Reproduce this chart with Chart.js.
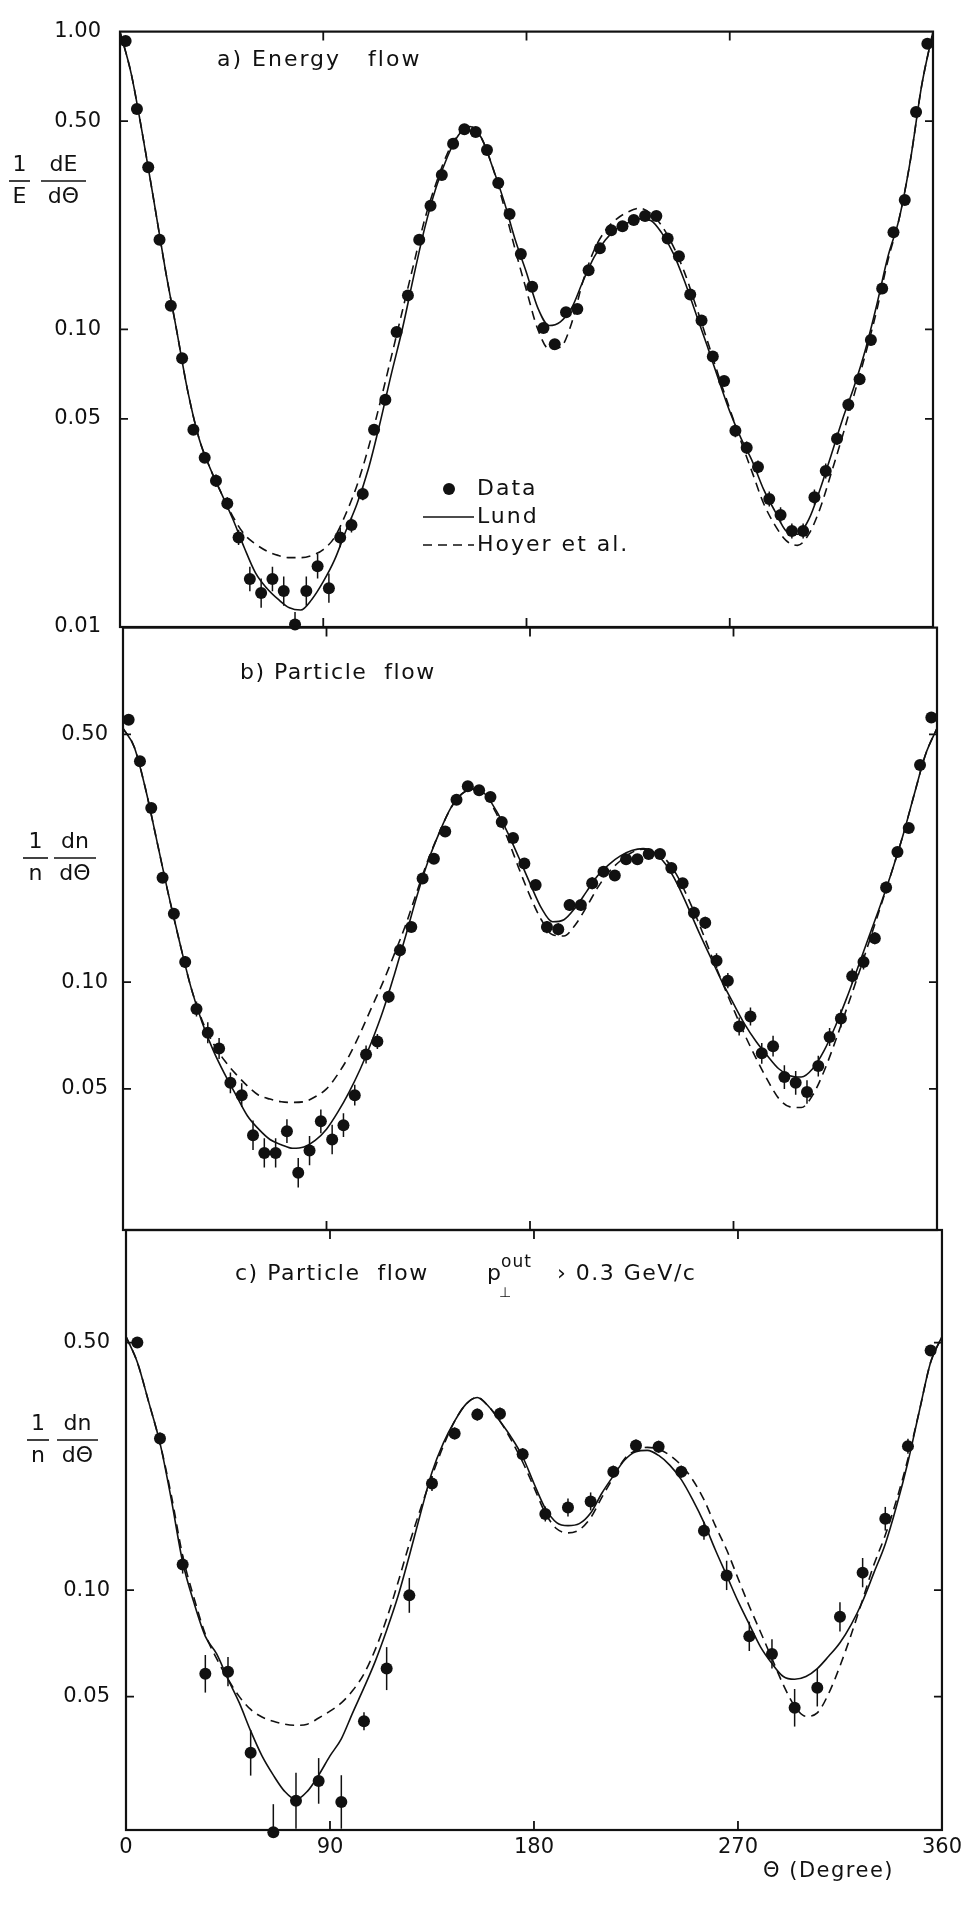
<!DOCTYPE html>
<html>
<head>
<meta charset="utf-8">
<script src="https://cdn.jsdelivr.net/npm/chart.js@4.4.0/dist/chart.umd.min.js"></script>
<style>
  html, body { margin: 0; padding: 0; background: #fff; }
  #page { position: relative; width: 967px; height: 1923px; overflow: hidden; }
  .panel { position: absolute; left: 0; width: 967px; }
  .panel canvas { display: block; }
</style>
</head>
<body>
<div id="page">
  <div class="panel" style="top:0;height:660px"><canvas id="chartA"></canvas></div>
  <div class="panel" style="top:600px;height:660px"><canvas id="chartB"></canvas></div>
  <div class="panel" style="top:1200px;height:723px"><canvas id="chartC"></canvas></div>
</div>
<script>
// ---- angles (degrees) ----
const thetaBins = [2.5, 7.5, 12.5, 17.5, 22.5, 27.5, 32.5, 37.5, 42.5, 47.5,
  52.5, 57.5, 62.5, 67.5, 72.5, 77.5, 82.5, 87.5, 92.5, 97.5,
  102.5, 107.5, 112.5, 117.5, 122.5, 127.5, 132.5, 137.5, 142.5, 147.5,
  152.5, 157.5, 162.5, 167.5, 172.5, 177.5, 182.5, 187.5, 192.5, 197.5,
  202.5, 207.5, 212.5, 217.5, 222.5, 227.5, 232.5, 237.5, 242.5, 247.5,
  252.5, 257.5, 262.5, 267.5, 272.5, 277.5, 282.5, 287.5, 292.5, 297.5,
  302.5, 307.5, 312.5, 317.5, 322.5, 327.5, 332.5, 337.5, 342.5, 347.5,
  352.5, 357.5];
const thetaCurve = [0, 5, 10, 15, 20, 25, 30, 35, 40, 45, 50, 55, 60, 65, 70, 75, 80, 85, 90, 95,
  100, 105, 110, 115, 120, 125, 130, 135, 140, 145, 150, 155, 160, 165, 170, 175, 180, 185, 190, 195,
  200, 205, 210, 215, 220, 225, 230, 235, 240, 245, 250, 255, 260, 265, 270, 275, 280, 285, 290, 295,
  300, 305, 310, 315, 320, 325, 330, 335, 340, 345, 350, 355, 360];
const thetaWide = [5, 15, 25, 35, 45, 55, 65, 75, 85, 95, 105, 115, 125, 135, 145, 155, 165, 175,
  185, 195, 205, 215, 225, 235, 245, 255, 265, 275, 285, 295, 305, 315, 325, 335, 345, 355];

// ---- tick labels ----
const ticksEnergy = [0.01, 0.05, 0.10, 0.50, 1.00];
const ticksParticle = [0.05, 0.10, 0.50];
const thetaTicks = [0, 90, 180, 270, 360];

// ---- a) energy flow ----
const energyData = [0.93, 0.55, 0.35, 0.20, 0.12, 0.080, 0.046, 0.037, 0.031, 0.026,
  0.020, 0.0145, 0.0130, 0.0145, 0.0132, 0.0102, 0.0132, 0.0160, 0.0135, 0.020,
  0.022, 0.028, 0.046, 0.058, 0.098, 0.13, 0.20, 0.26, 0.33, 0.42,
  0.47, 0.46, 0.40, 0.31, 0.244, 0.179, 0.139, 0.101, 0.089, 0.114,
  0.117, 0.158, 0.187, 0.215, 0.222, 0.233, 0.24, 0.24, 0.202, 0.176,
  0.131, 0.107, 0.081, 0.067, 0.0456, 0.040, 0.0345, 0.0269, 0.0238, 0.021,
  0.021, 0.0273, 0.0334, 0.0429, 0.0558, 0.068, 0.092, 0.137, 0.212, 0.272,
  0.537, 0.91];
const energyErr = [0.02, 0.02, 0.02, 0.03, 0.03, 0.03, 0.03, 0.04, 0.05, 0.05,
  0.06, 0.10, 0.12, 0.10, 0.12, 0.10, 0.12, 0.10, 0.12, 0.08,
  0.06, 0.05, 0.04, 0.04, 0.03, 0.03, 0.03, 0.02, 0.02, 0.02,
  0.02, 0.02, 0.02, 0.02, 0.02, 0.02, 0.03, 0.03, 0.03, 0.03,
  0.03, 0.03, 0.02, 0.02, 0.02, 0.02, 0.02, 0.02, 0.02, 0.03,
  0.03, 0.03, 0.04, 0.04, 0.05, 0.05, 0.05, 0.06, 0.06, 0.06,
  0.06, 0.06, 0.06, 0.05, 0.05, 0.04, 0.04, 0.04, 0.03, 0.03,
  0.02, 0.02];
const energyLund = [1.0, 0.72, 0.45, 0.27, 0.16, 0.10, 0.062, 0.043, 0.034, 0.028,
  0.023, 0.0185, 0.0152, 0.0135, 0.0124, 0.0116, 0.0114, 0.0124, 0.0142, 0.0168,
  0.021, 0.026, 0.034, 0.048, 0.070, 0.10, 0.15, 0.22, 0.30, 0.38,
  0.45, 0.48, 0.44, 0.35, 0.27, 0.20, 0.155, 0.118, 0.103, 0.106,
  0.118, 0.145, 0.175, 0.20, 0.218, 0.228, 0.235, 0.232, 0.21, 0.18,
  0.145, 0.113, 0.088, 0.068, 0.053, 0.043, 0.036, 0.029, 0.0245, 0.021,
  0.0205, 0.023, 0.029, 0.038, 0.050, 0.064, 0.085, 0.12, 0.175, 0.235,
  0.37, 0.66, 1.0];
const energyHoyer = [1.0, 0.72, 0.45, 0.27, 0.16, 0.10, 0.062, 0.043, 0.034, 0.028,
  0.0235, 0.0205, 0.019, 0.018, 0.0174, 0.0171, 0.0171, 0.0174, 0.0182, 0.020,
  0.024, 0.030, 0.040, 0.056, 0.080, 0.115, 0.165, 0.235, 0.31, 0.39,
  0.455, 0.48, 0.44, 0.35, 0.26, 0.185, 0.135, 0.100, 0.086, 0.087,
  0.105, 0.145, 0.185, 0.215, 0.235, 0.248, 0.255, 0.245, 0.222, 0.19,
  0.155, 0.12, 0.092, 0.070, 0.054, 0.042, 0.033, 0.026, 0.022, 0.0195,
  0.0188, 0.0205, 0.025, 0.033, 0.044, 0.060, 0.082, 0.115, 0.17, 0.235,
  0.37, 0.66, 1.0];

// ---- b) particle flow ----
const particleData = [0.55, 0.42, 0.31, 0.197, 0.156, 0.114, 0.084, 0.072, 0.065, 0.052,
  0.048, 0.037, 0.033, 0.033, 0.038, 0.029, 0.0335, 0.0405, 0.036, 0.0395,
  0.048, 0.0625, 0.068, 0.091, 0.123, 0.143, 0.196, 0.223, 0.266, 0.327,
  0.357, 0.348, 0.333, 0.283, 0.255, 0.216, 0.188, 0.143, 0.141, 0.165,
  0.165, 0.19, 0.205, 0.20, 0.222, 0.222, 0.23, 0.23, 0.21, 0.19,
  0.157, 0.147, 0.115, 0.101, 0.075, 0.080, 0.063, 0.066, 0.054, 0.052,
  0.049, 0.058, 0.070, 0.079, 0.104, 0.114, 0.133, 0.185, 0.233, 0.272,
  0.41, 0.558];
const particleErr = [0.02, 0.02, 0.03, 0.03, 0.03, 0.04, 0.05, 0.07, 0.07, 0.07,
  0.08, 0.10, 0.10, 0.10, 0.08, 0.10, 0.10, 0.08, 0.10, 0.08,
  0.07, 0.06, 0.05, 0.04, 0.04, 0.03, 0.03, 0.03, 0.02, 0.02,
  0.02, 0.02, 0.02, 0.02, 0.02, 0.03, 0.03, 0.04, 0.04, 0.04,
  0.04, 0.04, 0.03, 0.03, 0.03, 0.03, 0.03, 0.03, 0.03, 0.03,
  0.04, 0.04, 0.05, 0.05, 0.06, 0.06, 0.07, 0.07, 0.08, 0.08,
  0.08, 0.07, 0.06, 0.06, 0.05, 0.05, 0.04, 0.04, 0.03, 0.03,
  0.02, 0.02];
const particleLund = [0.52, 0.46, 0.35, 0.25, 0.178, 0.13, 0.097, 0.077, 0.064, 0.055,
  0.048, 0.042, 0.0385, 0.036, 0.0348, 0.034, 0.0343, 0.0358, 0.0385, 0.043,
  0.049, 0.057, 0.068, 0.083, 0.105, 0.135, 0.175, 0.22, 0.265, 0.31,
  0.34, 0.35, 0.34, 0.305, 0.265, 0.225, 0.19, 0.162, 0.148, 0.15,
  0.162, 0.18, 0.20, 0.215, 0.227, 0.235, 0.238, 0.232, 0.215, 0.19,
  0.162, 0.137, 0.117, 0.10, 0.087, 0.076, 0.068, 0.062, 0.057, 0.0545,
  0.054, 0.057, 0.064, 0.075, 0.090, 0.11, 0.135, 0.165, 0.205, 0.26,
  0.34, 0.44, 0.52];
const particleHoyer = [0.52, 0.46, 0.35, 0.25, 0.178, 0.13, 0.097, 0.078, 0.067, 0.060,
  0.055, 0.051, 0.048, 0.0468, 0.046, 0.0458, 0.046, 0.0475, 0.050, 0.055,
  0.062, 0.072, 0.085, 0.10, 0.12, 0.145, 0.18, 0.222, 0.265, 0.31,
  0.34, 0.352, 0.34, 0.30, 0.255, 0.21, 0.175, 0.15, 0.136, 0.135,
  0.145, 0.163, 0.185, 0.205, 0.22, 0.232, 0.237, 0.235, 0.222, 0.20,
  0.172, 0.145, 0.12, 0.10, 0.084, 0.071, 0.061, 0.053, 0.047, 0.0445,
  0.0443, 0.048, 0.056, 0.068, 0.084, 0.104, 0.13, 0.163, 0.205, 0.26,
  0.34, 0.44, 0.52];

// ---- c) particle flow, pT out > 0.3 GeV/c ----
const ptoutData = [0.50, 0.268, 0.118, 0.058, 0.0588, 0.0347, 0.0207, 0.0254, 0.0289, 0.0252,
  0.0426, 0.060, 0.0966, 0.20, 0.277, 0.313, 0.315, 0.242, 0.164, 0.171,
  0.178, 0.216, 0.256, 0.254, 0.216, 0.147, 0.11, 0.074, 0.066, 0.0465,
  0.053, 0.084, 0.112, 0.159, 0.255, 0.475];
const ptoutErr = [0.03, 0.04, 0.06, 0.13, 0.10, 0.16, 0.20, 0.20, 0.16, 0.19,
  0.06, 0.15, 0.12, 0.05, 0.04, 0.04, 0.04, 0.04, 0.05, 0.06,
  0.06, 0.04, 0.04, 0.04, 0.04, 0.06, 0.10, 0.10, 0.10, 0.13,
  0.13, 0.10, 0.10, 0.08, 0.05, 0.03];
const ptoutLund = [0.52, 0.44, 0.34, 0.26, 0.18, 0.12, 0.092, 0.074, 0.066, 0.056,
  0.048, 0.040, 0.034, 0.030, 0.027, 0.0256, 0.027, 0.030, 0.034, 0.038,
  0.045, 0.053, 0.063, 0.077, 0.096, 0.125, 0.165, 0.215, 0.26, 0.30,
  0.335, 0.35, 0.33, 0.30, 0.27, 0.238, 0.20, 0.17, 0.155, 0.152,
  0.154, 0.165, 0.188, 0.21, 0.233, 0.246, 0.248, 0.24, 0.225, 0.205,
  0.18, 0.155, 0.13, 0.11, 0.093, 0.080, 0.069, 0.062, 0.057, 0.056,
  0.057, 0.060, 0.065, 0.071, 0.080, 0.093, 0.112, 0.135, 0.173, 0.23,
  0.32, 0.44, 0.52];
const ptoutHoyer = [0.52, 0.44, 0.34, 0.26, 0.185, 0.125, 0.095, 0.075, 0.064, 0.056,
  0.050, 0.046, 0.0438, 0.0426, 0.0418, 0.0415, 0.0418, 0.0435, 0.0455, 0.048,
  0.052, 0.058, 0.068, 0.083, 0.105, 0.135, 0.17, 0.21, 0.255, 0.30,
  0.335, 0.35, 0.33, 0.30, 0.265, 0.23, 0.195, 0.165, 0.149, 0.145,
  0.148, 0.16, 0.183, 0.208, 0.235, 0.248, 0.253, 0.25, 0.24, 0.225,
  0.205, 0.18, 0.152, 0.13, 0.108, 0.090, 0.076, 0.064, 0.054, 0.047,
  0.044, 0.045, 0.051, 0.061, 0.075, 0.094, 0.118, 0.143, 0.18, 0.235,
  0.32, 0.44, 0.52];

const INK = '#111';
const FONT = '"DejaVu Sans", sans-serif';

function pts(xs, ys) {
    return xs.map((x, i) => ({ x: x, y: ys[i] }));
}

function drawText(ctx, str, x, y, size, spacing, align) {
    ctx.save();
    ctx.font = size + 'px ' + FONT;
    ctx.fillStyle = INK;
    ctx.textAlign = align || 'left';
    ctx.textBaseline = 'middle';
    if ('letterSpacing' in ctx) ctx.letterSpacing = (spacing || 0) + 'px';
    ctx.fillText(str, x, y);
    ctx.restore();
}

// little stacked fraction, like 1/E
function drawFrac(ctx, num, den, x1, x2, yBar, size) {
    const cx = (x1 + x2) / 2;
    drawText(ctx, num, cx, yBar - size * 0.72, size, 0, 'center');
    drawText(ctx, den, cx, yBar + size * 0.74, size, 0, 'center');
    ctx.save();
    ctx.strokeStyle = INK;
    ctx.lineWidth = 1.6;
    ctx.beginPath();
    ctx.moveTo(x1, yBar);
    ctx.lineTo(x2, yBar);
    ctx.stroke();
    ctx.restore();
}

// frame, inward ticks, error bars and the hand-placed text of each panel
const panelPlugin = {
    id: 'panel',
    beforeDatasetsDraw(chart) {
        const ctx = chart.ctx;
        const ys = chart.scales.y;
        const area = chart.chartArea;
        ctx.save();
        ctx.beginPath();
        ctx.rect(area.left, area.top, area.right - area.left, area.bottom - area.top);
        ctx.clip();
        ctx.strokeStyle = INK;
        ctx.lineWidth = 1.5;
        chart.data.datasets.forEach((ds, i) => {
            if (!ds.errs) return;
            const meta = chart.getDatasetMeta(i);
            meta.data.forEach((el, j) => {
                const v = ds.data[j].y;
                const e = ds.errs[j];
                ctx.beginPath();
                ctx.moveTo(el.x, ys.getPixelForValue(v * (1 + e)));
                ctx.lineTo(el.x, ys.getPixelForValue(v / (1 + e)));
                ctx.stroke();
            });
        });
        ctx.restore();
    },
    afterDraw(chart, args, opts) {
        const ctx = chart.ctx;
        const a = chart.chartArea;
        const xs = chart.scales.x;
        const ys = chart.scales.y;
        const off = opts.pageTop;

        ctx.save();
        ctx.strokeStyle = INK;
        ctx.lineWidth = 2.2;
        ctx.strokeRect(a.left, a.top, a.right - a.left, a.bottom - a.top);

        // inward tick marks
        ctx.lineWidth = 1.8;
        ctx.beginPath();
        opts.yInner.forEach(v => {
            const py = ys.getPixelForValue(v);
            ctx.moveTo(a.left, py); ctx.lineTo(a.left + 8, py);
            ctx.moveTo(a.right, py); ctx.lineTo(a.right - 8, py);
        });
        [90, 180, 270].forEach(v => {
            const px = xs.getPixelForValue(v);
            ctx.moveTo(px, a.top); ctx.lineTo(px, a.top + 9);
            ctx.moveTo(px, a.bottom); ctx.lineTo(px, a.bottom - 9);
        });
        ctx.stroke();
        ctx.restore();

        (opts.texts || []).forEach(t => drawText(ctx, t.s, t.x, t.y - off, t.size, t.sp, t.align));
        (opts.fracs || []).forEach(f => drawFrac(ctx, f.num, f.den, f.x1, f.x2, f.y - off, f.size));

        if (opts.legend) {
            const L = opts.legend;
            const dsData = chart.data.datasets[0];
            ctx.save();
            ctx.fillStyle = dsData.backgroundColor;
            ctx.beginPath();
            ctx.arc(L.dotX, L.rows[0] - off, 6, 0, Math.PI * 2);
            ctx.fill();
            ctx.strokeStyle = INK;
            ctx.lineWidth = 1.6;
            ctx.beginPath();
            ctx.moveTo(L.x1, L.rows[1] - off); ctx.lineTo(L.x2, L.rows[1] - off);
            ctx.stroke();
            ctx.setLineDash(chart.data.datasets[2].borderDash);
            ctx.beginPath();
            ctx.moveTo(L.x1, L.rows[2] - off); ctx.lineTo(L.x2, L.rows[2] - off);
            ctx.stroke();
            ctx.restore();
            L.labels.forEach((s, i) => drawText(ctx, s, L.tx, L.rows[i] - off, 22, 2));
        }
    }
};

function makePanel(id, cfg) {
    const datasets = [
        {
            label: 'Data',
            data: pts(cfg.dataX, cfg.data),
            errs: cfg.errs,
            showLine: false,
            pointRadius: 6,
            pointBackgroundColor: INK,
            backgroundColor: INK,
            pointBorderWidth: 0,
            clip: false
        },
        {
            label: 'Lund',
            data: pts(thetaCurve, cfg.lund),
            showLine: true,
            borderColor: INK,
            borderWidth: 1.6,
            pointRadius: 0,
            cubicInterpolationMode: 'monotone'
        },
        {
            label: 'Hoyer et al.',
            data: pts(thetaCurve, cfg.hoyer),
            showLine: true,
            borderColor: INK,
            borderWidth: 1.6,
            borderDash: [9, 6],
            pointRadius: 0,
            cubicInterpolationMode: 'monotone'
        }
    ];

    return new Chart(document.getElementById(id), {
        type: 'scatter',
        data: { datasets },
        plugins: [panelPlugin],
        options: {
            responsive: true,
            maintainAspectRatio: false,
            animation: false,
            layout: { padding: cfg.pad },
            plugins: {
                legend: { display: false },
                tooltip: { enabled: false },
                panel: cfg.panel
            },
            scales: {
                x: {
                    type: 'linear',
                    min: 0,
                    max: 360,
                    bounds: 'data',
                    display: cfg.showX,
                    afterBuildTicks: s => { s.ticks = thetaTicks.map(v => ({ value: v })); },
                    afterFit: s => { s.height = cfg.showX ? 60 : 0; },
                    grid: { display: false, drawTicks: false },
                    border: { display: false },
                    ticks: {
                        color: INK,
                        font: { family: FONT, size: 21 },
                        padding: 5,
                        maxRotation: 0,
                        autoSkip: false,
                        callback: v => String(v)
                    }
                },
                y: {
                    type: 'logarithmic',
                    min: cfg.yMin,
                    max: cfg.yMax,
                    bounds: 'data',
                    afterBuildTicks: s => { s.ticks = cfg.yTicks.map(v => ({ value: v })); },
                    afterFit: s => { s.width = cfg.yWidth; },
                    grid: { display: false, drawTicks: false },
                    border: { display: false },
                    ticks: {
                        color: INK,
                        font: { family: FONT, size: 21 },
                        padding: cfg.labelPad,
                        autoSkip: false,
                        callback: v => Number(v).toFixed(2)
                    }
                }
            }
        }
    });
}

// panel a: chart area 120..933 x 19..627 on the page
makePanel('chartA', {
    dataX: thetaBins, data: energyData, errs: energyErr,
    lund: energyLund, hoyer: energyHoyer,
    yMin: 0.01, yMax: 1.0, yTicks: ticksEnergy,
    pad: { top: 19, bottom: 33, left: 0, right: 34 },
    yWidth: 120, labelPad: 19, showX: false,
    panel: {
        pageTop: 0,
        yInner: [0.05, 0.1, 0.5],
        texts: [{ s: 'a) Energy   flow', x: 217, y: 60, size: 22, sp: 2 }],
        fracs: [
            { num: '1', den: 'E', x1: 9, x2: 30, y: 181, size: 22 },
            { num: 'dE', den: 'd\u0398', x1: 41, x2: 86, y: 181, size: 22 }
        ],
        legend: {
            dotX: 449, x1: 423, x2: 474, tx: 477,
            rows: [489, 517, 545],
            labels: ['Data', 'Lund', 'Hoyer et al.']
        }
    }
});

// panel b: 123..937 x 627..1230
makePanel('chartB', {
    dataX: thetaBins, data: particleData, errs: particleErr,
    lund: particleLund, hoyer: particleHoyer,
    yMin: 0.02, yMax: 1.0, yTicks: ticksParticle,
    pad: { top: 27, bottom: 30, left: 0, right: 30 },
    yWidth: 123, labelPad: 15, showX: false,
    panel: {
        pageTop: 600,
        yInner: ticksParticle,
        texts: [{ s: 'b) Particle  flow', x: 240, y: 673, size: 22, sp: 1.5 }],
        fracs: [
            { num: '1', den: 'n', x1: 23, x2: 48, y: 858, size: 22 },
            { num: 'dn', den: 'd\u0398', x1: 54, x2: 96, y: 858, size: 22 }
        ]
    }
});

// panel c: 126..943 x 1230..1830, theta axis labels below
makePanel('chartC', {
    dataX: thetaWide, data: ptoutData, errs: ptoutErr,
    lund: ptoutLund, hoyer: ptoutHoyer,
    yMin: 0.021, yMax: 1.04, yTicks: ticksParticle,
    pad: { top: 30, bottom: 33, left: 0, right: 24 },
    yWidth: 126, labelPad: 16, showX: true,
    panel: {
        pageTop: 1200,
        yInner: ticksParticle,
        texts: [
            { s: 'c) Particle  flow', x: 235, y: 1274, size: 22, sp: 1.5 },
            { s: 'p', x: 487, y: 1274, size: 22 },
            { s: 'out', x: 501, y: 1263, size: 17, sp: 1 },
            { s: '\u22A5', x: 499, y: 1293, size: 14 },
            { s: '\u203A 0.3 GeV/c', x: 557, y: 1274, size: 22, sp: 1.5 },
            { s: '\u0398 (Degree)', x: 763, y: 1872, size: 21, sp: 1.5 }
        ],
        fracs: [
            { num: '1', den: 'n', x1: 27, x2: 49, y: 1440, size: 22 },
            { num: 'dn', den: 'd\u0398', x1: 57, x2: 98, y: 1440, size: 22 }
        ]
    }
});
</script>
</body>
</html>
